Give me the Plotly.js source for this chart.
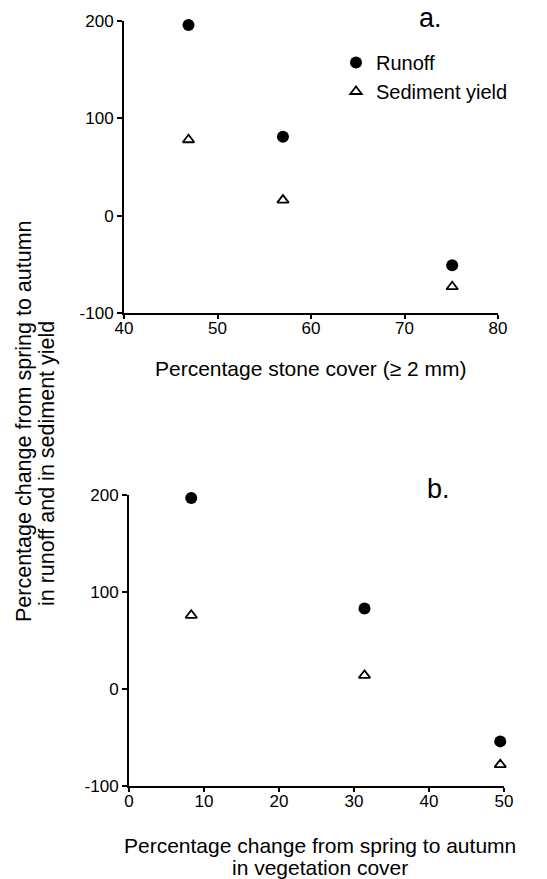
<!DOCTYPE html>
<html>
<head>
<meta charset="utf-8">
<script src="https://cdn.plot.ly/plotly-3.0.1.min.js"></script>
<style>html,body{margin:0;padding:0;background:#fff;}#chart{width:547px;height:879px;}</style>
</head>
<body>
<div id="chart"></div>
<script>
// Panel a: stone cover
const stoneCover = [46.9, 57.0, 75.1];
const runoffA = [196, 81, -51];
const sedimentA = [78, 16, -73];
// Panel b: vegetation cover change
const vegChange = [8.3, 31.4, 49.5];
const runoffB = [197, 83, -54];
const sedimentB = [76, 14, -78];
const yTicks = [-100, 0, 100, 200];
const yTickText = ['-100', '0', '100', '200'];
const xTicksA = [40, 50, 60, 70, 80];
const xTicksB = [0, 10, 20, 30, 40, 50];

const W = 547, H = 879;
const px = v => v / W, py = v => 1 - v / H;
const FONT = 'Liberation Sans, Arial, sans-serif';

const circ = {symbol: 'circle', size: 12, color: '#000'};
const tri = {symbol: 'triangle-up-open', size: 10, color: '#000', line: {color: '#000', width: 1.8}};

const traces = [
  {x: stoneCover, y: runoffA, type: 'scatter', mode: 'markers', name: 'Runoff', marker: circ, xaxis: 'x', yaxis: 'y', cliponaxis: false},
  {x: stoneCover, y: sedimentA, type: 'scatter', mode: 'markers', name: 'Sediment yield', marker: tri, xaxis: 'x', yaxis: 'y', cliponaxis: false},
  {x: vegChange, y: runoffB, type: 'scatter', mode: 'markers', name: 'Runoff', marker: circ, xaxis: 'x2', yaxis: 'y2', showlegend: false, cliponaxis: false},
  {x: vegChange, y: sedimentB, type: 'scatter', mode: 'markers', name: 'Sediment yield', marker: tri, xaxis: 'x2', yaxis: 'y2', showlegend: false, cliponaxis: false}
];

const axBase = {
  showline: true, linecolor: '#000', linewidth: 2, mirror: false,
  ticks: 'outside', ticklen: 5, tickwidth: 2, tickcolor: '#000',
  showgrid: false, zeroline: false, fixedrange: true,
  tickfont: {family: FONT, size: 17, color: '#000'}
};
const xBase = Object.assign({}, axBase, {ticklen: 4, ticklabelstandoff: -5});
const yBase = Object.assign({}, axBase, {tickvals: yTicks, ticktext: yTickText, range: [-100, 200]});

const t = (text, x, y, size, angle) => ({text: text, x: px(x), y: py(y), xref: 'paper', yref: 'paper',
  xanchor: 'center', yanchor: 'middle',
  showarrow: false, textangle: angle || 0, font: {family: FONT, size: size, color: '#000'}});

const layout = {
  width: W, height: H,
  margin: {l: 0, r: 0, t: 0, b: 0},
  paper_bgcolor: '#fff', plot_bgcolor: '#fff',
  font: {family: FONT, color: '#000'},
  showlegend: true,
  legend: {x: px(336), y: py(43), xanchor: 'left', yanchor: 'top', bgcolor: 'rgba(0,0,0,0)',
           font: {family: FONT, size: 20, color: '#000'}, tracegroupgap: 0, itemsizing: 'trace'},
  xaxis: Object.assign({}, xBase, {domain: [px(124), px(498)], range: [40, 80], tickvals: xTicksA, anchor: 'y'}),
  yaxis: Object.assign({}, yBase, {domain: [py(313), py(21)], anchor: 'x'}),
  xaxis2: Object.assign({}, xBase, {domain: [px(129), px(504)], range: [0, 50], tickvals: xTicksB, anchor: 'y2'}),
  yaxis2: Object.assign({}, yBase, {domain: [py(786), py(495)], anchor: 'x2'}),
  annotations: [
    t('Percentage change from spring to autumn', 24, 421, 21.5, -90),
    t('in runoff and in sediment yield', 47, 464, 21.5, -90),
    t('Percentage stone cover (≥ 2 mm)', 310, 368, 21),
    t('Percentage change from spring to autumn', 320, 845, 21),
    t('in vegetation cover', 320, 867, 21),
    t('a.', 430, 18, 27),
    t('b.', 438, 489, 27)
  ]
};

Plotly.newPlot('chart', traces, layout, {displayModeBar: false, staticPlot: true});
</script>
</body>
</html>
